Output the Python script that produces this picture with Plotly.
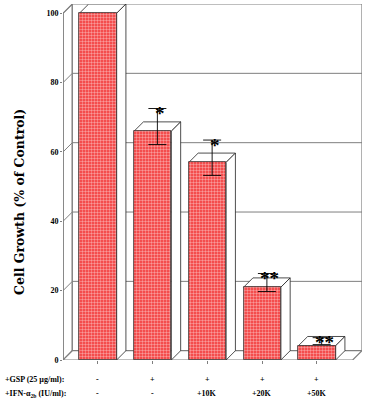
import plotly.graph_objects as go

# ---- data ----
gsp_labels = ["-", "+", "+", "+", "+"]
ifn_labels = ["-", "-", "+10K", "+20K", "+50K"]
values = [100, 66, 57, 21, 4.1]
errors = [0, 5.2, 5.1, 2.6, 1.0]
stars = ["", "*", "*", "**", "**"]
y_ticks = [0, 20, 40, 60, 80, 100]

# ---- geometry (in data units) ----
XMIN, XMAX = -0.639, 4.822
DX, DY = 0.17, 2.68
YTOP = 100 + DY
W = 0.68
FONT = "Liberation Serif"
GRAY = "#7f7f7f"
EDGE = "#222222"

xs = list(range(len(values)))

fig = go.Figure()

# front faces
fig.add_trace(go.Bar(
    x=xs, y=values, width=W,
    marker=dict(
        color="#f03030",
        line=dict(color="#333333", width=0.8),
        pattern=dict(shape=".", fgcolor="white", bgcolor="#f23333", size=3, solidity=0.5),
    ),
    hoverinfo="skip", showlegend=False,
))

# error bars at mid-depth of top face
fig.add_trace(go.Scatter(
    x=[x + DX / 2 for x in xs[1:]],
    y=[v + DY / 2 for v in values[1:]],
    mode="markers", marker=dict(size=1, color="black", opacity=0),
    error_y=dict(type="data", array=errors[1:], color="black", thickness=0.9, width=9),
    hoverinfo="skip", showlegend=False,
))

shapes = []
# left wall
shapes.append(dict(type="path", layer="below",
                   path=f"M {XMIN},0 L {XMIN+DX},{DY} L {XMIN+DX},{YTOP} L {XMIN},100 Z",
                   fillcolor="white", line=dict(color=GRAY, width=1.2)))
# back wall
shapes.append(dict(type="rect", layer="below", x0=XMIN + DX, x1=XMAX, y0=DY, y1=YTOP,
                   fillcolor="white", line=dict(color=GRAY, width=1.2)))
# floor
shapes.append(dict(type="path", layer="below",
                   path=f"M {XMIN},0 L {XMAX-DX},0 L {XMAX},{DY} L {XMIN+DX},{DY} Z",
                   fillcolor="white", line=dict(color=GRAY, width=1.2)))
# gridlines on back wall and tick diagonals on left wall
for t in y_ticks:
    if 0 < t < 100:
        shapes.append(dict(type="line", layer="below", x0=XMIN + DX, x1=XMAX, y0=t + DY, y1=t + DY,
                           line=dict(color=GRAY, width=1)))
    shapes.append(dict(type="line", layer="below", x0=XMIN, x1=XMIN + DX, y0=t, y1=t + DY,
                       line=dict(color=GRAY, width=1)))
# front axis line
shapes.append(dict(type="line", layer="below", x0=XMIN, x1=XMIN, y0=0, y1=100,
                   line=dict(color=GRAY, width=1.6)))

# top and side faces of bars
for x, v in zip(xs, values):
    l, r = x - W / 2, x + W / 2
    shapes.append(dict(type="path", layer="below",
                       path=f"M {l},{v} L {r},{v} L {r+DX},{v+DY} L {l+DX},{v+DY} Z",
                       fillcolor="white", line=dict(color=EDGE, width=0.8)))
    shapes.append(dict(type="path", layer="below",
                       path=f"M {r},0 L {r+DX},{DY} L {r+DX},{v+DY} L {r},{v} Z",
                       fillcolor="white", line=dict(color=EDGE, width=0.8)))

annotations = []
# significance stars
for x, v, e, s in zip(xs, values, errors, stars):
    if s:
        annotations.append(dict(x=x + DX / 2, y=v + DY / 2 + e, xref="x", yref="y", text=s,
                                showarrow=False, xanchor="center", yanchor="middle",
                                xshift=3, yshift=-5,
                                font=dict(family=FONT, size=19, color="black", weight="bold")))
# category labels
for x, g, f in zip(xs, gsp_labels, ifn_labels):
    annotations.append(dict(x=x, y=-0.0534, xref="x", yref="paper", text=g, showarrow=False,
                            xanchor="center", yanchor="middle",
                            font=dict(family=FONT, size=8, color="black", weight="bold")))
    annotations.append(dict(x=x, y=-0.0955, xref="x", yref="paper", text=f, showarrow=False,
                            xanchor="center", yanchor="middle",
                            font=dict(family=FONT, size=8, color="black", weight="bold")))
annotations.append(dict(x=(3 - 63) / 299, y=-0.0534, xref="paper", yref="paper",
                        text="+GSP (25 µg/ml):", showarrow=False, xanchor="left", yanchor="middle",
                        font=dict(family=FONT, size=8, color="black", weight="bold")))
annotations.append(dict(x=(3 - 63) / 299, y=-0.0955, xref="paper", yref="paper",
                        text="+IFN-α<sub>2b</sub> (IU/ml):", showarrow=False, xanchor="left",
                        yanchor="middle",
                        font=dict(family=FONT, size=8, color="black", weight="bold")))
annotations.append(dict(x=(19 - 63) / 299, y=(360 - 202) / 356, xref="paper", yref="paper",
                        text="Cell Growth (% of Control)", showarrow=False, textangle=-90,
                        xanchor="center", yanchor="middle",
                        font=dict(family="DejaVu Serif", size=12.5, color="black", weight="bold")))

fig.update_layout(
    width=365, height=401,
    margin=dict(l=63, r=3, t=4, b=41),
    paper_bgcolor="white", plot_bgcolor="white",
    shapes=shapes, annotations=annotations,
    bargap=0,
    xaxis=dict(range=[XMIN, XMAX], showgrid=False, zeroline=False, showline=False,
               tickvals=xs, showticklabels=False, ticks="outside", ticklen=3,
               tickcolor=GRAY, tickwidth=1),
    yaxis=dict(range=[0, YTOP], showgrid=False, zeroline=False, showline=False,
               tickvals=y_ticks, ticktext=[str(t) for t in y_ticks],
               ticks="outside", ticklen=2, tickcolor=GRAY, tickwidth=1,
               tickfont=dict(family=FONT, size=8, color="black", weight="bold")),
)

fig.write_html("out.html", config={"displayModeBar": False},
               post_script="document.body.style.margin='0';")
